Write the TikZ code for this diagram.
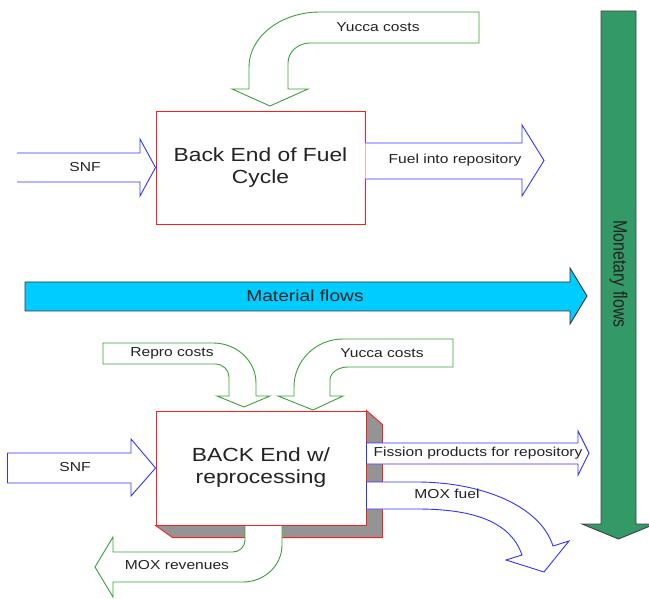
\documentclass[tikz,border=0pt]{standalone}
\usepackage{fontspec}
\setmainfont[FakeStretch=1.2]{Liberation Sans}
\newfontfamily\upfont{Liberation Sans}
\usetikzlibrary{positioning, calc}
\definecolor{FlowBlue}{RGB}{51, 51, 255}
\definecolor{FlowGreen}{RGB}{60, 160, 60}
\definecolor{FlowRed}{RGB}{255, 30, 30}
\definecolor{MatCyan}{RGB}{0, 204, 255}
\definecolor{MonGreen}{RGB}{51, 153, 102}
\definecolor{TextGrey}{RGB}{35, 35, 35}

\begin{document}
\begin{tikzpicture}[x=1pt, y=-1pt,
    matflow/.style={draw=FlowBlue, fill=white, line width=0.9pt},
    monflow/.style={draw=FlowGreen, fill=white, line width=0.9pt},
    stage/.style={draw=FlowRed, fill=white, line width=0.9pt, inner sep=0pt},
    big/.style={font=\fontsize{19}{22}\selectfont, text=TextGrey, align=center},
    lbl/.style={font=\fontsize{13}{15}\selectfont, text=TextGrey}]

\useasboundingbox (0,0) rectangle (649,599);

% monetary flows, drawn first so it is cut by the page edge
\draw[fill=MonGreen, draw=black!75, line width=0.9pt] (601,11) -- (636,11) -- (636,524) -- (655,524) -- (618.5,539) -- (582,524) -- (601,524) -- cycle;
\node[font=\upfont\fontsize{16}{18}\selectfont, text=TextGrey, rotate=-90] (money) at (618.5,274) {\scalebox{1}[1.2]{Monetary flows}};

% material flows
\draw[fill=MatCyan, draw=black!80, line width=0.9pt] (25,282) -- (570,282) -- (570,268) -- (587,296) -- (570,324) -- (570,311) -- (25,311) -- cycle;
\node[font=\fontsize{16}{18}\selectfont, text=TextGrey] (material) at (305,296) {Material flows};

% the plain back end
\node[stage, big, minimum width=209pt, minimum height=113pt] (plain) at (260.5,167.5) {Back End of Fuel\\Cycle};

\draw[matflow] (17,153) -- (140,153) -- (140,139) -- (plain.west) -- (140,196) -- (140,182) -- (17,182);
\draw[matflow] (plain.east |- 0,143) -- (522,143) -- (522,125) -- (544,160.5) -- (522,196) -- (522,179) -- (plain.east |- 0,179);
\draw[monflow] (479,12) -- (320,12) arc[start angle=270, end angle=180, x radius=71, y radius=55] -- (249,89) -- (232,89) -- (270,106) -- (308,89) -- (288,89) -- (288,63) arc[start angle=180, end angle=270, x radius=22, y radius=20] -- (479,43) -- cycle;

% the back end with reprocessing
\node[stage, big, minimum width=210pt, minimum height=114pt] (repro) at (261,468) {BACK End w/\\reprocessing};
\filldraw[fill=black!42, draw=FlowRed, line width=0.9pt] (repro.north east) -- ++(16,14) -- ++(0,113) -- ++(-210,0) -- (repro.south west) -- (repro.south east) -- cycle;

\draw[matflow] (7.5,453) -- (131,453) -- (131,439) -- (repro.west) -- (131,496) -- (131,483) -- (7.5,483) -- cycle;
\draw[matflow] (repro.east |- 0,443) -- (578,443) -- (578,431) -- (589,453) -- (578,475) -- (578,464) -- (repro.east |- 0,464) -- cycle;
\draw[matflow] (repro.east |- 0,482) -- (417,482) .. controls (480,482) and (540,505) .. (553,546) -- (569,541) -- (544,572) -- (506,560) -- (522,555) .. controls (510,520) and (470,509) .. (417,509) -- (repro.east |- 0,509) -- cycle;

\draw[monflow] (103,343) -- (213,343) arc[start angle=270, end angle=360, x radius=43, y radius=40] -- (256,396) -- (270,396) -- (244,407) -- (217,396) -- (229,396) -- (229,377) arc[start angle=0, end angle=-90, x radius=14, y radius=13] -- (103,364) -- cycle;
\draw[monflow] (453,339) -- (343,339) arc[start angle=270, end angle=180, x radius=49, y radius=48] -- (294,396) -- (278,396) -- (313,410) -- (343,396) -- (330,396) -- (330,380) arc[start angle=180, end angle=270, x radius=18, y radius=13] -- (453,367) -- cycle;
\draw[monflow] (245,526) -- (245,540) arc[start angle=0, end angle=90, radius=12] -- (113,552) -- (113,537) -- (95,567) -- (113,597) -- (113,582) -- (243,582) arc[start angle=90, end angle=0, x radius=39, y radius=37] -- (282,526);

% labels of the flows
\foreach \n/\x/\y/\t in {snfa/85/167/SNF, repoa/455/160/Fuel into repository, yuccaa/378/27/Yucca costs,
    snfb/75/467/SNF, fission/478/453/Fission products for repository, mox/447/494/MOX fuel,
    reprocost/172/353/Repro costs, yuccab/382/353/Yucca costs, moxrev/177/565/MOX revenues}
  \node[lbl] (\n) at (\x,\y) {\t};

\end{tikzpicture}
\end{document}
